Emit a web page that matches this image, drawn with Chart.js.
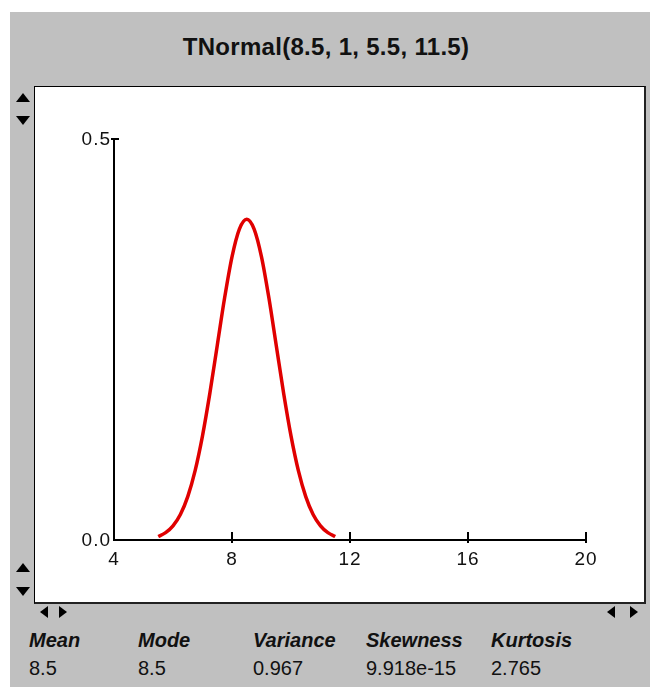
<!DOCTYPE html>
<html>
<head>
<meta charset="utf-8">
<script src="https://cdn.jsdelivr.net/npm/chart.js"></script>
<style>
  body { margin: 0; background: #fff; }
  #page { position: relative; width: 650px; height: 687px; overflow: hidden; }
  #panel { position: absolute; left: 10px; top: 12px; width: 640px; height: 675px; background: #c0c0c0; }
  #box { position: absolute; left: 34px; top: 86px; width: 609px; height: 515px; background: #fff;
         border: 1px solid #000; border-right: 2px solid #222; border-bottom: 2px solid #222; }
  #title { position: absolute; left: 0; width: 652px; top: 33px; text-align: center; letter-spacing: 0.3px;
           font: bold 24px "Liberation Sans", Arial, sans-serif; color: #111; }
  #myChart { position: absolute; left: 0; top: 0; }
  .tri { position: absolute; width: 0; height: 0; }
  .up { border-left: 7px solid transparent; border-right: 7px solid transparent; border-bottom: 9px solid #000; }
  .down { border-left: 7px solid transparent; border-right: 7px solid transparent; border-top: 9px solid #000; }
  .left { border-top: 6px solid transparent; border-bottom: 6px solid transparent; border-right: 8px solid #000; }
  .right { border-top: 6px solid transparent; border-bottom: 6px solid transparent; border-left: 8px solid #000; }
  .stat { position: absolute; font: 20px "Liberation Sans", Arial, sans-serif; color: #111; line-height: 22px; }
  .lab { font-weight: bold; font-style: italic; }
</style>
</head>
<body>
<div id="page">
  <div id="panel"></div>
  <div id="title">TNormal(8.5, 1, 5.5, 11.5)</div>
  <div id="box"></div>

  <div class="tri up" style="left:16px; top:93px"></div>
  <div class="tri down" style="left:16px; top:116px"></div>
  <div class="tri up" style="left:16px; top:563px"></div>
  <div class="tri down" style="left:16px; top:587px"></div>
  <div class="tri left" style="left:40px; top:606px"></div>
  <div class="tri right" style="left:59px; top:606px"></div>
  <div class="tri left" style="left:607px; top:606px"></div>
  <div class="tri right" style="left:630px; top:606px"></div>

  <div id="stats"></div>
  <canvas id="myChart" width="650" height="687"></canvas>
</div>
<script>
// axis ranges and tick labels
const xTicks = [4, 8, 12, 16, 20];
const yTicks = [0.0, 0.5];

// truncated normal density
const xValues = [5.5, 5.75, 6, 6.25, 6.5, 6.75, 7, 7.25, 7.5, 7.75, 8, 8.25, 8.5,
                 8.75, 9, 9.25, 9.5, 9.75, 10, 10.25, 10.5, 10.75, 11, 11.25, 11.5];
const density = [0.0044, 0.0091, 0.0176, 0.0318, 0.0541, 0.0865, 0.1299, 0.1831, 0.2426, 0.3020, 0.3531, 0.3877, 0.4000,
                 0.3877, 0.3531, 0.3020, 0.2426, 0.1831, 0.1299, 0.0865, 0.0541, 0.0318, 0.0176, 0.0091, 0.0044];

// summary numbers under the plot
const statNames = ['Mean', 'Mode', 'Variance', 'Skewness', 'Kurtosis'];
const statValues = ['8.5', '8.5', '0.967', '9.918e-15', '2.765'];
const statX = [29, 138, 253, 366, 491];

const stats = document.getElementById('stats');
statNames.forEach((n, i) => {
  stats.innerHTML += '<div class="stat lab" style="left:' + statX[i] + 'px; top:629px">' + n + '</div>' +
                     '<div class="stat" style="left:' + statX[i] + 'px; top:657px">' + statValues[i] + '</div>';
});

const tickFont = '19px "Liberation Sans", Arial, sans-serif';

// draws the axes the way the old program did (ticks pointing up, "T" on top of y axis)
const axesPlugin = {
  id: 'oldAxes',
  beforeDatasetsDraw(chart) {
    const ctx = chart.ctx;
    const xs = chart.scales.x, ys = chart.scales.y;
    const x0 = xs.getPixelForValue(xTicks[0]);
    const x1 = xs.getPixelForValue(xTicks[xTicks.length - 1]);
    const y0 = ys.getPixelForValue(yTicks[0]);
    const y1 = ys.getPixelForValue(yTicks[yTicks.length - 1]);
    ctx.save();
    ctx.strokeStyle = '#000';
    ctx.lineWidth = 2;
    ctx.beginPath();
    ctx.moveTo(x0, y1); ctx.lineTo(x0, y0); ctx.lineTo(x1, y0);
    ctx.moveTo(x0 - 3, y1); ctx.lineTo(x0 + 5, y1);
    xTicks.slice(1).forEach(v => {
      const px = xs.getPixelForValue(v);
      ctx.moveTo(px, y0 - 8); ctx.lineTo(px, y0 + 3);
    });
    ctx.stroke();

    ctx.fillStyle = '#111';
    ctx.font = tickFont;
    ctx.letterSpacing = '1px';
    ctx.textAlign = 'center';
    ctx.textBaseline = 'top';
    xTicks.forEach(v => ctx.fillText(String(v), xs.getPixelForValue(v), y0 + 10));
    ctx.textAlign = 'right';
    ctx.textBaseline = 'middle';
    yTicks.forEach(v => ctx.fillText(v.toFixed(1), x0 - 3, ys.getPixelForValue(v) + 1));
    ctx.restore();
  }
};

let lineChart = new Chart(document.getElementById('myChart'), {
  type: 'line',
  data: {
    datasets: [{
      data: xValues.map((x, i) => ({x: x, y: density[i]})),
      borderColor: '#e00000',
      borderWidth: 3.5,
      pointRadius: 0,
      cubicInterpolationMode: 'monotone',
      fill: false,
      clip: false
    }]
  },
  options: {
    responsive: false,
    animation: false,
    layout: { padding: { left: 114, top: 139, right: 64, bottom: 147 } },
    plugins: { legend: { display: false }, tooltip: { enabled: false } },
    scales: {
      x: { type: 'linear', min: 4, max: 20, display: false },
      y: { min: 0, max: 0.5, display: false }
    }
  },
  plugins: [axesPlugin]
});
</script>
</body>
</html>
